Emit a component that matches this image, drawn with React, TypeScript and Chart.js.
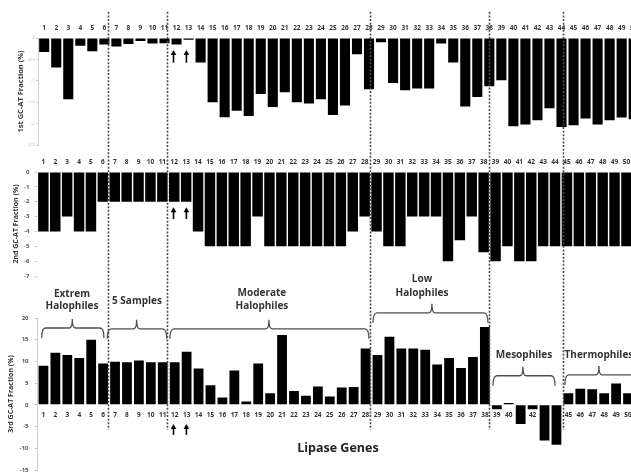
import React, { useEffect, useRef } from 'react';
import { Chart, registerables } from 'chart.js';

Chart.register(...registerables);

// ---------- data ----------
const geneLabels = ['1','2','3','4','5','6','7','8','9','10','11','12','13','14','15','16','17','18','19','20','21','22','23','24','25','26','27','28','29','30','31','32','33','34','35','36','37','38','39','40','41','42','43','44','45','46','47','48','49','50'];

const firstFraction = [-0.33, -0.69, -1.43, -0.18, -0.31, -0.15, -0.2, -0.14, -0.07, -0.13, -0.12, -0.15, -0.04, -0.57, -1.5, -1.85, -1.7, -1.82, -1.31, -1.61, -1.27, -1.5, -1.53, -1.43, -1.8, -1.58, -0.38, -1.2, -0.1, -1.05, -1.22, -1.18, -1.18, -0.13, -0.57, -1.6, -1.38, -1.13, -0.99, -2.06, -2.02, -1.92, -1.64, -2.08, -2.04, -1.88, -2.02, -1.92, -1.86, -1.9];

const secondFraction = [-4, -4, -3, -4, -4, -2, -2, -2, -2, -2, -2, -2, -2, -4, -5, -5, -5, -5, -3, -5, -5, -5, -5, -5, -5, -5, -4, -3, -4, -5, -5, -3, -3, -3, -6, -4.6, -3, -5.4, -6, -5, -6, -6, -5, -5, -5, -5, -5, -5, -5, -5];

const thirdFraction = [9.0, 12.0, 11.5, 10.8, 15.0, 9.5, 9.9, 9.8, 10.2, 9.8, 9.8, 9.8, 12.2, 8.4, 4.5, 1.7, 7.9, 0.8, 9.5, 2.7, 16.1, 3.2, 2.1, 4.2, 1.9, 4.0, 4.1, 13.0, 11.5, 15.7, 13.0, 13.0, 12.7, 9.3, 10.8, 8.5, 11.0, 17.9, -1.0, 0.4, -4.4, -1.0, -8.2, -9.2, 2.7, 3.7, 3.6, 2.7, 4.9, 2.7];

const firstTicks = [0, -0.5, -1, -1.5, -2, -2.5];
const secondTicks = [0, -1, -2, -3, -4, -5, -6, -7];
const thirdTicks = [20, 15, 10, 5, 0, -5, -10, -15];

const groupNames = [
  ['Extrem', 'Halophiles'],
  ['5 Samples'],
  ['Moderate', 'Halophiles'],
  ['Low', 'Halophiles'],
  ['Mesophiles'],
  ['Thermophiles'],
];
const xAxisTitle = 'Lipase Genes';

// ---------- annotation layout (in the 3rd panel's axis units) ----------
const groupLayout = [
  { x: 2.39, y: [25.6, 22.8], from: -0.15, to: 5.07, tip: 2.42, line: 17.7 },
  { x: 7.84, y: [23.9], from: 5.35, to: 10.33, tip: 7.81, line: 17.5 },
  { x: 18.31, y: [25.8, 22.8], from: 10.6, to: 27.28, tip: 18.9, line: 17.5 },
  { x: 31.73, y: [29.0, 25.8], from: 27.62, to: 37.26, tip: 32.56, line: 21.2 },
  { x: 40.28, y: [11.5], from: 37.68, to: 42.88, tip: 40.19, line: 6.7 },
  { x: 46.56, y: [11.5], from: 43.71, to: 53.5, tip: 46.56, line: 6.9 },
];
const dividerAt = [5.43, 10.35, 27.37, 37.34, 43.55];
const dividerSpan = [90.5, -5.8];
const arrowAt = [10.9, 11.98];
const arrowSpans = [[81.7, 78.8], [45.5, 42.8], [-4.4, -6.9]];
const xTitlePos = { x: 24.68, y: -10.1 };

const FONT = '"Open Sans"';

function zeroPad(s: any) {
  s.paddingTop = 0; s.paddingBottom = 0; s.paddingLeft = 0; s.paddingRight = 0;
}

function drawBrace(ctx: CanvasRenderingContext2D, x1: number, x2: number, xm: number, y: number) {
  const depth = 10, peak = 9, r = 4, rp = 3;
  ctx.beginPath();
  ctx.moveTo(x1, y + depth);
  ctx.quadraticCurveTo(x1, y, x1 + r, y);
  ctx.lineTo(xm - rp, y);
  ctx.quadraticCurveTo(xm, y, xm, y - peak);
  ctx.quadraticCurveTo(xm, y, xm + rp, y);
  ctx.lineTo(x2 - r, y);
  ctx.quadraticCurveTo(x2, y, x2, y + depth);
  ctx.stroke();
}

const annotationPlugin = {
  id: 'annotations',
  afterDraw(chart: any) {
    const ctx: CanvasRenderingContext2D = chart.ctx;
    const xs = chart.scales.x;
    const ys = chart.scales.y;
    const X = (v: number) => xs.getPixelForValue(v);
    const Y = (v: number) => ys.getPixelForValue(v);
    ctx.save();
    // dotted dividers
    ctx.strokeStyle = '#4a4a4a';
    ctx.lineWidth = 1.6;
    ctx.setLineDash([2, 1.6]);
    dividerAt.forEach((d) => {
      const x = Math.round(X(d)) + 0.5;
      ctx.beginPath();
      ctx.moveTo(x, Y(dividerSpan[0]));
      ctx.lineTo(x, Y(dividerSpan[1]));
      ctx.stroke();
    });
    ctx.setLineDash([]);
    // braces
    ctx.strokeStyle = '#4d4d4d';
    ctx.lineWidth = 1.3;
    groupLayout.forEach((g) => drawBrace(ctx, X(g.from), X(g.to), X(g.tip), Y(g.line)));
    // group names
    ctx.fillStyle = '#333';
    ctx.font = `bold 10px ${FONT}`;
    ctx.textAlign = 'center';
    ctx.textBaseline = 'middle';
    groupLayout.forEach((g, i) => {
      groupNames[i].forEach((t, k) => ctx.fillText(t, X(g.x), Y(g.y[k])));
    });
    // x axis title
    ctx.fillStyle = '#222';
    ctx.font = `bold 12.5px ${FONT}`;
    ctx.fillText(xAxisTitle, X(xTitlePos.x), Y(xTitlePos.y));
    // arrows
    ctx.fillStyle = '#000';
    ctx.strokeStyle = '#000';
    ctx.lineWidth = 1.6;
    arrowSpans.forEach(([top, bottom]) => {
      arrowAt.forEach((a) => {
        const x = X(a);
        const yt = Y(top);
        const yb = Y(bottom);
        ctx.beginPath();
        ctx.moveTo(x, yb);
        ctx.lineTo(x, yt + 4);
        ctx.stroke();
        ctx.beginPath();
        ctx.moveTo(x, yt);
        ctx.lineTo(x - 2.8, yt + 5);
        ctx.lineTo(x + 2.8, yt + 5);
        ctx.closePath();
        ctx.fill();
      });
    });
    ctx.restore();
  },
};

function xTicksFont() {
  return { family: FONT, size: 6.5, weight: 'bold' as const };
}

function makeConfig(opts: {
  values: number[];
  ticks: number[];
  min: number;
  max: number;
  barPct: number;
  title: string;
  titleSize: number;
  titlePad: number;
  axisWidth: number;
  xHeight: number;
  padRight: number;
  padTop: number;
  padBottom: number;
  xPosition: any;
  xPad: number;
  yTickFont: any;
  yTickColor: string;
  yTickLen: number;
  yTickPad: number;
  yBorder: boolean;
  plugins?: any[];
}): any {
  return {
    type: 'bar',
    data: {
      labels: geneLabels,
      datasets: [
        {
          data: opts.values,
          backgroundColor: '#000',
          borderWidth: 0,
          barPercentage: opts.barPct,
          categoryPercentage: 1,
        },
      ],
    },
    options: {
      responsive: false,
      animation: false,
      events: [],
      layout: { padding: { left: 0, right: opts.padRight, top: opts.padTop, bottom: opts.padBottom } },
      plugins: { legend: { display: false }, tooltip: { enabled: false } },
      scales: {
        x: {
          type: 'category',
          position: opts.xPosition,
          grid: { display: false, drawTicks: false },
          border: { display: false },
          ticks: {
            autoSkip: false,
            maxRotation: 0,
            minRotation: 0,
            padding: opts.xPad,
            color: '#333',
            font: xTicksFont(),
          },
          afterFit: (s: any) => {
            if (typeof opts.xPosition === 'string') s.height = opts.xHeight;
            zeroPad(s);
          },
        },
        y: {
          type: 'linear',
          min: opts.min,
          max: opts.max,
          afterBuildTicks: (s: any) => {
            s.ticks = opts.ticks.map((v) => ({ value: v }));
          },
          grid: {
            display: true,
            drawOnChartArea: false,
            drawTicks: true,
            tickLength: opts.yTickLen,
            color: '#c8c8c8',
            lineWidth: 1,
          },
          border: { display: opts.yBorder, color: '#d0d0d0', width: 1 },
          ticks: {
            padding: opts.yTickPad,
            color: opts.yTickColor,
            font: opts.yTickFont,
            callback: (v: any) => String(v),
          },
          title: {
            display: true,
            text: opts.title,
            color: '#333',
            font: { family: FONT, size: opts.titleSize, weight: 'bold' },
            padding: { top: opts.titlePad, bottom: 0 },
          },
          afterFit: (s: any) => {
            s.width = opts.axisWidth;
            zeroPad(s);
          },
        },
      },
    },
    plugins: opts.plugins || [],
  };
}

export default function App() {
  const r1 = useRef<HTMLCanvasElement>(null);
  const r2 = useRef<HTMLCanvasElement>(null);
  const r3 = useRef<HTMLCanvasElement>(null);

  useEffect(() => {
    const c1 = new Chart(
      r1.current!,
      makeConfig({
        values: firstFraction,
        ticks: firstTicks,
        min: -2.5,
        max: 0,
        barPct: 0.84,
        title: '1st GC-AT Fraction (%)',
        titleSize: 7.5,
        titlePad: 16.5,
        axisWidth: 38.2,
        xHeight: 38,
        padRight: 660 - 639.7,
        padTop: 0,
        padBottom: 15,
        xPosition: 'top',
        xPad: 5.8,
        yTickFont: { family: FONT, size: 4 },
        yTickColor: '#a8a8a8',
        yTickLen: 2,
        yTickPad: 1.5,
        yBorder: true,
      })
    );
    const c2 = new Chart(
      r2.current!,
      makeConfig({
        values: secondFraction,
        ticks: secondTicks,
        min: -7,
        max: 0,
        barPct: 0.88,
        title: '2nd GC-AT Fraction (%)',
        titleSize: 7,
        titlePad: 11.5,
        axisWidth: 37.4,
        xHeight: 22,
        padRight: 660 - 632.4,
        padTop: 0,
        padBottom: 9,
        xPosition: 'top',
        xPad: 5.8,
        yTickFont: { family: FONT, size: 6, weight: 'bold' },
        yTickColor: '#555',
        yTickLen: 3,
        yTickPad: 5,
        yBorder: false,
      })
    );
    const c3 = new Chart(
      r3.current!,
      makeConfig({
        values: thirdFraction,
        ticks: thirdTicks,
        min: -15,
        max: 20,
        barPct: 0.82,
        title: '3rd GC-AT Fraction (%)',
        titleSize: 7,
        titlePad: 6.8,
        axisWidth: 37.5,
        xHeight: 0,
        padRight: 660 - 634,
        padTop: 318,
        padBottom: 2,
        xPosition: { y: 0 },
        xPad: 6.8,
        yTickFont: { family: FONT, size: 6, weight: 'bold' },
        yTickColor: '#555',
        yTickLen: 3,
        yTickPad: 6,
        yBorder: true,
        plugins: [annotationPlugin],
      })
    );
    return () => {
      c1.destroy();
      c2.destroy();
      c3.destroy();
    };
  }, []);

  return (
    <div
      style={{
        position: 'absolute',
        left: 0,
        top: 0,
        width: 631,
        height: 472,
        overflow: 'hidden',
        background: '#fff',
      }}
    >
      <canvas ref={r1} width={660} height={160} style={{ position: 'absolute', left: 0, top: 0 }} />
      <canvas ref={r2} width={660} height={135} style={{ position: 'absolute', left: 0, top: 150 }} />
      <canvas ref={r3} width={660} height={472} style={{ position: 'absolute', left: 0, top: 0 }} />
    </div>
  );
}
